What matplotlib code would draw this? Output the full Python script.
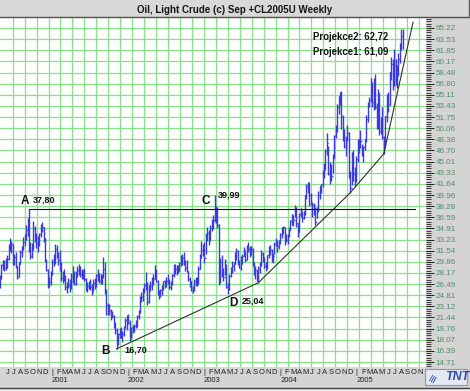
import numpy as np
import pandas as pd
import matplotlib
matplotlib.use('Agg')
import matplotlib.pyplot as plt
from matplotlib.patches import Rectangle
from matplotlib.lines import Line2D
import matplotlib.transforms as mtransforms
from matplotlib.ticker import FixedLocator

plt.rcParams['font.family'] = ['Liberation Sans', 'DejaVu Sans']

# ---------------- data (weekly OHLC, Friday dates) ----------------
start_date = '2000-05-05'

high_2000 = [27.9, 29.6, 30.1, 30.2, 30.4, 30.9, 32.6, 33.5, 33.0, 32.6, 31.0, 31.3, 29.3, 29.8, 31.6, 32.3, 33.6, 34.0, 35.5, 36.5, 37.80, 32.9, 32.7, 36.0, 35.3, 34.2, 33.8, 34.2, 35.6, 35.9, 35.2, 33.5, 30.3, 28.8, 27.6]
low_2000 = [25.9, 27.2, 28.6, 28.5, 28.6, 28.9, 30.1, 31.5, 31.2, 29.4, 29.4, 28.9, 27.2, 27.5, 29.5, 30.6, 31.6, 32.2, 33.2, 33.8, 31.3, 30.3, 30.4, 31.6, 32.9, 32.0, 31.4, 32.3, 33.6, 34.3, 32.9, 29.8, 28.4, 25.9, 26.0]
close_2000 = [27.4, 29.4, 29.7, 29.0, 30.2, 30.3, 32.1, 32.3, 32.5, 29.8, 30.6, 29.2, 27.6, 29.6, 31.4, 31.9, 32.9, 33.4, 34.6, 35.9, 32.7, 30.8, 32.0, 34.9, 33.8, 32.7, 32.6, 34.0, 35.3, 35.1, 33.4, 30.0, 28.6, 26.3, 26.8]

high_2001 = [28.5, 30.3, 31.0, 32.6, 32.4, 31.3, 31.6, 29.8, 28.4, 28.7, 27.9, 26.8, 27.4, 27.2, 28.1, 29.2, 28.4, 28.5, 29.3, 29.5, 29.2, 28.8, 28.6, 29.0, 27.4, 26.8, 27.0, 27.3, 26.5, 27.2, 27.4, 28.0, 28.7, 28.2, 28.0, 28.0, 30.6, 29.8, 25.7, 23.6, 23.5, 22.8, 22.4, 21.8, 20.8, 19.9, 19.1, 19.9, 20.0, 19.4, 20.1, 21.3]
low_2001 = [26.3, 27.8, 29.2, 29.6, 30.5, 29.4, 28.5, 27.0, 26.6, 27.0, 25.6, 25.2, 25.9, 25.3, 25.8, 26.6, 26.3, 26.3, 27.6, 27.9, 27.5, 27.2, 27.2, 27.0, 25.5, 25.3, 25.8, 25.6, 24.8, 25.5, 25.8, 26.0, 27.0, 26.6, 26.5, 26.5, 27.4, 25.0, 21.8, 21.8, 21.8, 21.0, 21.3, 19.8, 19.0, 16.70, 17.3, 18.4, 18.3, 17.8, 18.7, 19.8]
close_2001 = [27.9, 29.9, 30.0, 31.8, 31.2, 30.1, 29.3, 27.4, 27.9, 27.6, 26.0, 26.3, 26.3, 26.0, 27.6, 27.3, 26.5, 27.9, 28.6, 28.5, 28.0, 28.0, 27.9, 27.3, 26.1, 26.2, 26.7, 26.1, 25.3, 26.7, 26.2, 27.8, 27.2, 26.9, 27.1, 27.5, 28.8, 25.6, 23.4, 22.4, 22.4, 21.8, 21.6, 20.2, 19.6, 17.5, 18.9, 19.4, 19.1, 19.0, 19.9, 21.0]

high_2002 = [21.8, 22.0, 21.0, 20.0, 20.3, 20.4, 21.0, 21.8, 22.6, 24.7, 25.3, 25.9, 26.6, 28.3, 26.8, 26.4, 27.0, 27.6, 28.0, 29.4, 28.8, 27.1, 25.6, 25.8, 26.3, 27.0, 27.1, 27.5, 28.0, 27.2, 27.0, 28.0, 29.6, 29.6, 29.4, 29.4, 29.9, 30.9, 31.0, 31.4, 30.2, 30.1, 28.5, 27.5, 27.0, 26.2, 27.2, 27.6, 27.6, 29.2, 31.0, 33.0]
low_2002 = [19.6, 20.4, 17.9, 18.3, 19.1, 19.3, 19.8, 20.0, 21.2, 22.1, 23.8, 24.0, 25.1, 25.6, 23.3, 23.7, 25.5, 25.6, 26.4, 27.2, 26.8, 24.8, 24.2, 24.5, 24.9, 25.6, 25.9, 26.0, 26.5, 25.7, 25.6, 26.4, 27.6, 28.0, 27.9, 28.1, 28.4, 29.3, 29.4, 29.4, 28.5, 28.3, 26.9, 26.0, 25.4, 25.1, 25.5, 26.2, 26.2, 26.5, 28.7, 30.4]
close_2002 = [21.6, 20.6, 18.2, 19.8, 19.7, 20.2, 20.4, 21.6, 22.3, 24.5, 24.5, 25.6, 26.3, 26.6, 23.8, 26.3, 26.2, 27.0, 27.3, 28.5, 27.0, 25.3, 24.7, 25.6, 25.9, 26.9, 26.3, 27.0, 26.9, 26.1, 26.6, 27.8, 29.3, 28.8, 28.9, 28.4, 29.7, 29.9, 30.5, 29.6, 29.0, 28.4, 27.3, 26.9, 25.6, 25.7, 26.9, 26.9, 26.5, 28.8, 30.6, 31.7]

high_2003 = [32.6, 32.9, 34.2, 35.1, 34.6, 35.4, 36.4, 37.0, 39.99, 38.3, 38.1, 35.6, 30.4, 30.9, 29.0, 30.3, 29.5, 26.7, 28.0, 29.1, 30.0, 29.8, 31.3, 32.0, 31.6, 30.2, 30.8, 31.1, 32.1, 31.5, 32.4, 32.8, 32.3, 32.2, 31.9, 29.9, 29.3, 28.6, 29.3, 29.9, 31.6, 31.3, 30.6, 29.8, 30.9, 32.3, 32.4, 31.8, 31.2, 32.9, 33.5, 33.2]
low_2003 = [30.8, 29.7, 31.1, 33.0, 32.4, 33.0, 34.5, 34.8, 35.9, 35.7, 35.0, 26.3, 26.7, 27.6, 27.0, 27.9, 25.9, 25.04, 25.6, 27.5, 28.2, 28.4, 29.6, 30.2, 29.4, 28.9, 28.6, 29.6, 30.8, 29.9, 30.1, 31.4, 30.6, 30.9, 29.2, 27.8, 27.3, 26.9, 26.7, 28.2, 29.2, 29.9, 28.9, 28.5, 28.7, 30.5, 30.9, 29.9, 29.7, 31.1, 32.3, 31.4]
close_2003 = [32.2, 30.5, 33.8, 34.2, 33.5, 35.0, 35.6, 36.2, 36.6, 37.8, 35.5, 26.9, 29.8, 28.5, 27.6, 30.0, 26.1, 25.8, 27.7, 28.9, 29.2, 29.6, 30.7, 31.5, 29.7, 29.0, 30.4, 30.8, 31.7, 30.1, 32.2, 31.8, 31.2, 31.7, 29.5, 28.3, 28.6, 27.4, 28.8, 29.4, 31.1, 30.2, 29.2, 29.1, 30.9, 31.0, 31.6, 30.4, 30.7, 32.6, 33.0, 32.2]

high_2004 = [33.2, 34.2, 35.1, 35.3, 35.2, 34.0, 34.1, 35.1, 36.2, 37.1, 37.0, 38.4, 38.2, 35.8, 37.3, 38.0, 37.6, 37.5, 40.0, 41.6, 41.9, 41.9, 40.3, 38.9, 38.7, 38.2, 38.2, 40.6, 41.4, 41.7, 43.8, 44.8, 46.9, 49.4, 47.3, 45.0, 44.6, 46.1, 49.0, 50.5, 53.7, 54.9, 55.5, 55.67, 52.0, 49.9, 48.9, 50.5, 49.5, 43.6, 46.4, 46.8, 44.2]
low_2004 = [31.8, 32.5, 33.4, 34.0, 32.4, 32.9, 32.6, 33.6, 34.6, 35.4, 35.3, 36.7, 35.2, 33.6, 34.3, 36.7, 35.9, 36.3, 37.0, 39.3, 40.2, 38.3, 38.4, 36.6, 36.9, 35.4, 36.5, 37.4, 39.3, 40.3, 41.2, 42.6, 43.8, 46.0, 43.0, 41.6, 42.1, 43.3, 45.6, 48.6, 49.5, 52.2, 53.5, 50.0, 48.2, 47.0, 45.8, 48.1, 42.5, 40.3, 41.5, 42.1, 41.3]
close_2004 = [33.0, 34.1, 35.0, 35.1, 33.1, 33.1, 33.9, 34.6, 36.1, 36.9, 36.2, 38.1, 35.7, 34.4, 37.1, 37.7, 36.5, 37.4, 39.9, 41.4, 40.4, 39.9, 38.5, 38.4, 38.4, 35.9, 38.0, 39.9, 41.3, 41.6, 43.8, 44.4, 46.6, 47.9, 43.2, 43.9, 42.8, 45.6, 48.9, 50.1, 53.3, 54.9, 55.2, 51.8, 49.6, 47.3, 48.5, 49.4, 42.5, 41.0, 46.3, 43.2, 43.5]

high_2005 = [45.8, 48.5, 48.5, 49.8, 47.7, 47.3, 48.5, 52.0, 54.0, 54.8, 57.6, 57.0, 57.7, 58.3, 53.9, 56.0, 55.4, 51.8, 53.3, 48.9, 51.9, 55.3, 55.5, 58.6, 60.9, 60.5, 62.1, 60.6, 59.6, 61.4, 62.9, 65.1, 65.0]
low_2005 = [42.0, 45.0, 46.3, 47.1, 45.9, 44.9, 46.7, 48.0, 51.0, 53.3, 54.0, 53.3, 52.8, 53.0, 50.0, 49.9, 49.0, 49.2, 48.5, 46.2, 47.4, 51.0, 52.5, 53.5, 57.3, 55.9, 56.5, 56.6, 56.1, 58.0, 59.9, 61.9, 62.0]
close_2005 = [45.4, 48.3, 48.5, 48.2, 46.5, 47.2, 48.4, 51.5, 53.8, 54.4, 56.7, 54.1, 57.3, 53.3, 50.5, 55.4, 49.7, 51.0, 48.7, 47.2, 51.9, 54.9, 53.6, 58.5, 59.8, 58.8, 59.6, 58.1, 58.6, 60.6, 62.3, 64.0, 64.5]

# support curve and resistance line drawn on the chart
support_dates = ['2001-11-16', '2003-09-26', '2004-12-10', '2005-05-20', '2005-10-07']
support_prices = [16.70, 26.7, 40.3, 46.2, 66.1]
resist_dates = ['2000-09-22', '2005-10-15']
resist_price = 37.80

# labelled points
point_names = ['A', 'B', 'C', 'D']
point_dates = ['2000-09-22', '2001-11-16', '2003-02-28', '2003-05-02']
point_values = ['37,80', '16,70', '39,99', '25,04']
point_prices = [37.80, 16.70, 39.99, 25.04]
projection_texts = ['Projekce2: 62,72', 'Projekce1: 61,09']

ytick_values = [65.22, 63.53, 61.85, 60.17, 58.48, 56.80, 55.11, 53.43, 51.75, 50.06,
                48.38, 46.70, 45.01, 43.33, 41.64, 39.96, 38.28, 36.59, 34.91, 33.23,
                31.54, 29.86, 28.17, 26.49, 24.81, 23.12, 21.44, 19.76, 18.07, 16.39, 14.71]
title = 'Oil, Light Crude (c) Sep +CL2005U Weekly'

# ---------------- helpers ----------------
def dec_year(ts):
    ts = pd.Timestamp(ts)
    s = pd.Timestamp(year=ts.year, month=1, day=1)
    e = pd.Timestamp(year=ts.year + 1, month=1, day=1)
    return ts.year + (ts - s) / (e - s)

highs = np.array(high_2000 + high_2001 + high_2002 + high_2003 + high_2004 + high_2005)
lows = np.array(low_2000 + low_2001 + low_2002 + low_2003 + low_2004 + low_2005)
closes = np.array(close_2000 + close_2001 + close_2002 + close_2003 + close_2004 + close_2005)
n = len(highs)
dates = pd.date_range(start_date, periods=n, freq='7D')
t = np.array([dec_year(d) for d in dates])
opens = np.concatenate([[closes[0] - 0.4], closes[:-1]])

W, H = 470, 391
PXY = 76.2             # pixels per year
X_JAN2001 = 50.0
BG = '#d4d4d4'
GRID = '#88e088'
BAR = '#3a3ae0'
TICKC = '#6c6ce8'

fig = plt.figure(figsize=(W / 100, H / 100), dpi=100, facecolor=BG)

def fy(px):
    return 1 - px / H

def fx(px):
    return px / W

# title bar
fig.patches.append(Rectangle((0, fy(16.5)), 1, 16.5 / H, transform=fig.transFigure,
                             facecolor='#d8d8d8', edgecolor='none', zorder=0))
fig.lines.append(Line2D([0, 1], [fy(16.5), fy(16.5)], transform=fig.transFigure,
                        color='#505050', lw=1.0))
fig.lines.append(Line2D([fx(468.5), fx(468.5)], [fy(0), fy(16.5)], transform=fig.transFigure,
                        color='#606060', lw=1.0))
fig.text(0.5, fy(12.8), title, ha='center', va='baseline', fontsize=7, fontweight='bold',
         color='#141414')

top_px, bot_px, right_px = 17.0, 366.5, 426.0
ax = fig.add_axes([0, fy(bot_px), fx(right_px), (bot_px - top_px) / H])
ax.set_facecolor('white')
x0 = 2001 - X_JAN2001 / PXY
x1 = x0 + right_px / PXY
ax.set_xlim(x0, x1)
y_top = ytick_values[0] + (28 - top_px) / 6.613
y_bot = ytick_values[-1] - (bot_px - 362) / 6.613
ax.set_ylim(y_bot, y_top)

for s in ax.spines.values():
    s.set_visible(False)

# grid
for v in ytick_values:
    ax.axhline(v, color=GRID, lw=0.9, zorder=0)
gx = 12.7
while gx < right_px:
    ax.axvline(x0 + gx / PXY, color=GRID, lw=0.9, zorder=0)
    gx += 11.95

# OHLC bars
dx = 1.3 / PXY
ax.hlines(opens, t - dx, t, color=TICKC, lw=0.9, zorder=3)
ax.hlines(closes, t, t + dx, color=TICKC, lw=0.9, zorder=3)
ax.vlines(t, lows, highs, color=BAR, lw=1.0, zorder=3)

# support curve & resistance
ax.plot([dec_year(d) for d in support_dates], support_prices, color='#303030', lw=0.8, zorder=4)
ax.plot([dec_year(d) for d in resist_dates], [resist_price] * 2, color='#101010', lw=0.8, zorder=4)

# point labels (offsets in pixels: letter dx, dy ; value dx, dy)
letter_off = [(-4.3, 8), (-11, -2.5), (-8.8, -6.2), (6, -9)]
value_off = [(4.3, 9), (7.4, -1.5), (3.2, -0.2), (14, -7.3)]
for name, d, val, p, lo, vo in zip(point_names, point_dates, point_values, point_prices,
                                  letter_off, value_off):
    xd = dec_year(d)
    ax.annotate(name, xy=(xd, p), xytext=(lo[0] * 0.72, lo[1] * 0.72), textcoords='offset points',
                ha='center', va='center', fontsize=8.5, fontweight='bold', color='#101010', zorder=6)
    ax.annotate(val, xy=(xd, p), xytext=(vo[0] * 0.72, vo[1] * 0.72), textcoords='offset points',
                ha='left', va='center', fontsize=6.5, fontweight='bold', color='#101010', zorder=6)

for i, txt in enumerate(projection_texts):
    fig.text(fx(313), fy(39.7 + 15 * i), txt, ha='left', va='baseline', fontsize=6.9,
             fontweight='bold', color='#141414')

# right axis ticks
ax.yaxis.tick_right()
ax.set_yticks(ytick_values)
ax.set_yticklabels([f'{v:.2f}' for v in ytick_values])
step = (ytick_values[0] - ytick_values[-1]) / 30
minor = [ytick_values[-1] + k * step / 5 for k in range(-3, 160) if y_bot <= ytick_values[-1] + k * step / 5 <= y_top]
ax.yaxis.set_minor_locator(FixedLocator(minor))
ax.tick_params(axis='y', which='major', length=6, width=0.7, color='#202020', labelsize=5.8,
               labelcolor='#4d9066', pad=1)
ax.tick_params(axis='y', which='minor', length=3.5, width=0.6, color='#202020')
ax.set_xticks([])

# month / year labels
blend = mtransforms.blended_transform_factory(ax.transData, fig.transFigure)
letters = 'JFMAMJJASOND'
for m in pd.date_range('2000-05-01', '2005-12-01', freq='MS'):
    tm = dec_year(m)
    xc = tm + 2.0 / PXY
    if xc < x0 + 2.5 / PXY or xc > x1 - 3 / PXY:
        continue
    lab = '|' if m.month == 1 else letters[m.month - 1]
    ax.text(xc, fy(372.5), lab, transform=blend, ha='center', va='center',
            fontsize=5.5, color='#202020', clip_on=False)
for yr in range(2001, 2006):
    ax.text(yr + 1.5 / PXY, fy(381), str(yr), transform=blend, ha='left', va='center',
            fontsize=5.5, color='#202020', clip_on=False)

# bottom border
fig.lines.append(Line2D([0, 1], [fy(388), fy(388)], transform=fig.transFigure, color='#404040', lw=1.0))
fig.patches.append(Rectangle((0, 0), 1, fy(388.5), transform=fig.transFigure,
                             facecolor='#ececec', edgecolor='none'))

# TNT logo
fig.patches.append(Rectangle((fx(425), fy(385)), fx(42), 16 / H, transform=fig.transFigure,
                             facecolor='#e4e8f2', edgecolor='#8a96b8', lw=0.8))
fig.text(fx(457), fy(377.5), 'TNT', ha='center', va='center', fontsize=9, fontweight='bold',
         style='italic', color='#2c4cb8')
fig.text(fx(433), fy(377.5), '\u2261', ha='center', va='center', fontsize=8, rotation=60,
         color='#2c4cb8', family=['DejaVu Sans'])

fig.savefig('out.png', dpi=100, facecolor=BG)
